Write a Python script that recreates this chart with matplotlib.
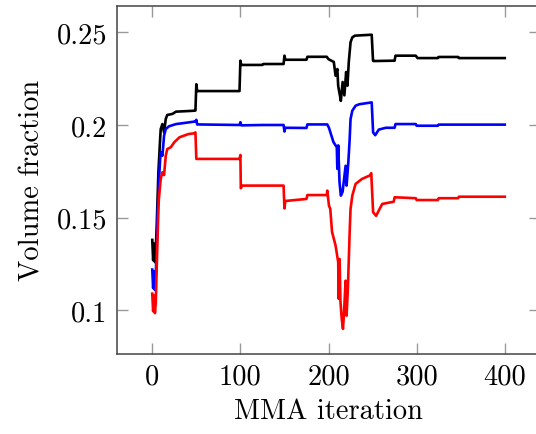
import matplotlib
matplotlib.use("Agg")
import matplotlib.pyplot as plt

# iteration / volume fraction pairs
black_it = [0, 1, 2, 3, 4, 5, 7, 9, 9.6, 11.5, 13.4, 15.3, 17, 23, 27, 40, 47.5, 49, 50, 51,
            99, 100, 101, 125, 126, 149, 150, 151, 175, 176, 198, 200, 204, 206, 208, 210,
            211, 213, 214, 216, 218, 220, 221.5, 223, 225, 227, 230, 249, 250.5, 251, 275,
            276, 299, 301, 324, 325, 347, 348, 400]
black_vf = [0.138, 0.127, 0.136, 0.126, 0.133, 0.145, 0.175, 0.193, 0.1978, 0.2005, 0.196,
            0.2032, 0.2054, 0.206, 0.2072, 0.2075, 0.2077, 0.2078, 0.222, 0.2183,
            0.2183, 0.2347, 0.2324, 0.2324, 0.2329, 0.2329, 0.2374, 0.2352, 0.2352, 0.2368,
            0.2368, 0.2355, 0.2345, 0.234, 0.2266, 0.2302, 0.221, 0.2157, 0.213, 0.2232,
            0.216, 0.2286, 0.2212, 0.234, 0.2446, 0.2473, 0.2482, 0.2487, 0.2347, 0.2345,
            0.2347, 0.2374, 0.2374, 0.2361, 0.2361, 0.2367, 0.2367, 0.2361, 0.2361]

blue_it = [0, 1, 2, 3, 4, 5, 7, 9, 9.6, 11.5, 13.4, 15.3, 19, 27, 32, 47.5, 49, 50, 51,
           99, 100, 101, 125, 149, 150, 151, 175, 176, 198.6, 200.5, 202, 205.6, 209.4, 210,
           211, 212.5, 214, 216, 219.4, 220.5, 222.5, 224, 225, 227, 230.7, 235, 249, 250.6,
           253, 257, 265, 275, 276, 299, 300, 324, 325, 400]
blue_vf = [0.122, 0.112, 0.121, 0.111, 0.118, 0.135, 0.165, 0.182, 0.1854, 0.1834, 0.1942,
           0.1978, 0.1993, 0.2005, 0.2008, 0.2018, 0.2018, 0.2028, 0.2003,
           0.2, 0.2015, 0.1998, 0.2, 0.2, 0.1965, 0.1985, 0.1984, 0.2003, 0.2003, 0.1985,
           0.1962, 0.1908, 0.188, 0.1763, 0.189, 0.169, 0.1619, 0.164, 0.178, 0.1673, 0.18,
           0.1924, 0.2032, 0.2077, 0.2104, 0.2112, 0.2122, 0.196, 0.1945, 0.1975, 0.1985,
           0.1985, 0.2005, 0.2005, 0.1996, 0.1996, 0.2002, 0.2002]

red_it = [0, 1, 2, 3, 4, 5, 7, 7.5, 9.6, 11.5, 13.4, 15.3, 17, 21, 25, 31, 41, 47.4, 49, 50,
          99, 100, 100.5, 102, 149, 150, 151, 175, 176, 198, 198.6, 200.5, 202, 204, 208,
          211, 211.5, 212.6, 213.5, 215, 216.4, 217.5, 219.4, 220.5, 222, 224, 225, 227,
          230.7, 238, 247, 248.5, 250.6, 254, 257, 261, 274, 275, 299, 300, 324, 325, 347,
          348, 400]
red_vf = [0.109, 0.0995, 0.108, 0.0985, 0.104, 0.122, 0.155, 0.16, 0.1709, 0.1745, 0.173,
          0.1834, 0.187, 0.188, 0.1907, 0.1934, 0.1951, 0.1955, 0.196, 0.1817,
          0.1817, 0.1838, 0.1659, 0.1673, 0.1673, 0.155, 0.159, 0.1601, 0.1622, 0.1622,
          0.1646, 0.1565, 0.1547, 0.1423, 0.135, 0.126, 0.1062, 0.1277, 0.105, 0.0954,
          0.09, 0.098, 0.116, 0.0971, 0.112, 0.1423, 0.1547, 0.1619, 0.1682, 0.1709,
          0.1728, 0.174, 0.1529, 0.151, 0.1538, 0.1574, 0.1586, 0.161, 0.1605, 0.1595,
          0.1595, 0.1605, 0.1605, 0.1613, 0.1613]

xticks = [0, 100, 200, 300, 400]
yticks = [0.1, 0.15, 0.2, 0.25]
ytick_labels = ["0.1", "0.15", "0.2", "0.25"]

plt.rcParams["font.family"] = "cmr10"
plt.rcParams["axes.formatter.use_mathtext"] = True

fig = plt.figure(figsize=(5.36, 4.35), dpi=100)
ax = fig.add_axes([0.2183, 0.1846, 0.7892, 0.7993])

ax.plot(black_it, black_vf, color="black", lw=1.9)
ax.plot(blue_it, blue_vf, color="blue", lw=1.9)
ax.plot(red_it, red_vf, color="red", lw=1.9)

ax.set_xlim(-40, 440)
ax.set_ylim(0.0766, 0.2642)
ax.set_xticks(xticks)
ax.set_xticklabels([str(t) for t in xticks])
ax.set_yticks(yticks)
ax.set_yticklabels(ytick_labels)

ax.tick_params(direction="in", length=8, width=1.0, color="#999999",
               top=True, right=True, labelsize=20.5, pad=7)
for s in ax.spines.values():
    s.set_color("#444444")
    s.set_linewidth(1.1)

ax.set_xlabel("MMA iteration", fontsize=20.5, labelpad=6)
ax.set_ylabel("Volume fraction", fontsize=20.5, labelpad=8)

fig.savefig("out.png", dpi=100)
